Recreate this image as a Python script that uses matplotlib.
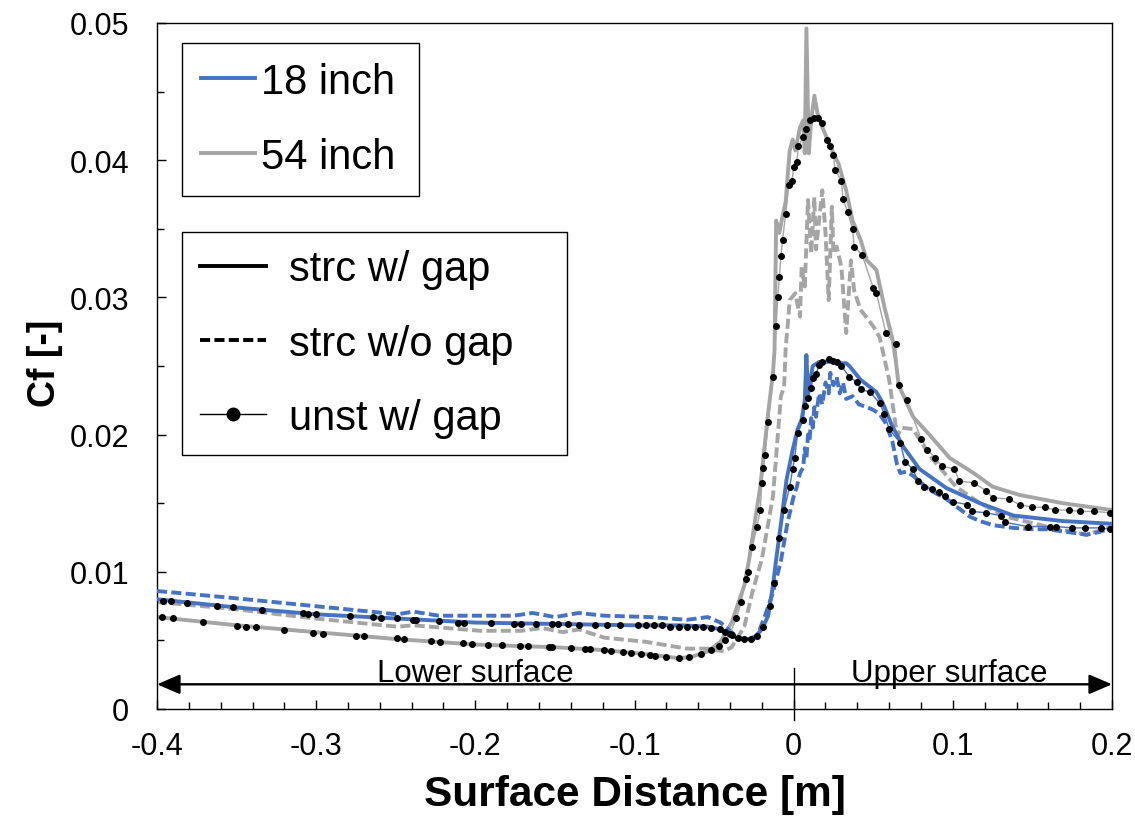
import matplotlib
matplotlib.use("Agg")
import matplotlib.pyplot as plt
from matplotlib.lines import Line2D
from matplotlib.ticker import MultipleLocator, FuncFormatter

plt.rcParams["font.family"] = ["Liberation Sans", "DejaVu Sans"]

BLUE = "#4472C4"
GRAY = "#A5A5A5"

# ---- 18 inch, structured mesh, with gap ----
x_b_gap = [-0.40, -0.35, -0.30, -0.25, -0.20, -0.15, -0.10, -0.07, -0.054, -0.046,
           -0.041, -0.036, -0.033, -0.028, -0.024, -0.020, -0.016, -0.013, -0.011,
           -0.008, -0.0045, -0.0006, 0.0025, 0.005, 0.007, 0.008, 0.009, 0.012,
           0.016, 0.020, 0.025, 0.030, 0.033, 0.035, 0.042, 0.052, 0.056, 0.062,
           0.069, 0.079, 0.096, 0.117, 0.138, 0.169, 0.200]
y_b_gap = [0.0080, 0.0074, 0.0069, 0.0066, 0.0063, 0.0062, 0.0061, 0.0061, 0.0060, 0.0058,
           0.0055, 0.0052, 0.0051, 0.0051, 0.0053, 0.0058, 0.0068, 0.0090, 0.0109,
           0.0135, 0.0167, 0.0189, 0.0204, 0.0211, 0.0225, 0.0258, 0.0230, 0.0250,
           0.0253, 0.0253, 0.0253, 0.0252, 0.0252, 0.0250, 0.0240, 0.0231, 0.0223, 0.0206,
           0.0191, 0.0175, 0.0161, 0.0150, 0.0141, 0.0137, 0.0135]

# ---- 18 inch, structured mesh, without gap ----
x_b_nogap = [-0.400, -0.353, -0.301, -0.249, -0.239, -0.223, -0.200, -0.176, -0.164, -0.150,
             -0.135, -0.119, -0.090, -0.067, -0.054, -0.046, -0.036, -0.028, -0.023, -0.018,
             -0.013, -0.008, -0.004, 0.000, 0.002, 0.004, 0.006, 0.007, 0.008, 0.009,
             0.010, 0.011, 0.012, 0.013, 0.014, 0.016, 0.018, 0.020, 0.022, 0.023,
             0.025, 0.027, 0.029, 0.031, 0.033, 0.037, 0.041, 0.046, 0.050, 0.054,
             0.058, 0.062, 0.065, 0.067, 0.071, 0.075, 0.085, 0.096, 0.104, 0.111,
             0.117, 0.125, 0.138, 0.150, 0.159, 0.172, 0.184, 0.192, 0.200]
y_b_nogap = [0.0086, 0.0081, 0.0075, 0.0069, 0.0071, 0.0068, 0.0068, 0.0068, 0.0070, 0.0067,
             0.0070, 0.0068, 0.0067, 0.0065, 0.0067, 0.0063, 0.0053, 0.0049, 0.0053, 0.0068,
             0.0085, 0.0108, 0.0135, 0.0155, 0.0162, 0.0172, 0.0176, 0.0190, 0.0182, 0.0200,
             0.0196, 0.0212, 0.0205, 0.0220, 0.0213, 0.0230, 0.0222, 0.0238, 0.0230, 0.0245,
             0.0236, 0.0242, 0.0230, 0.0238, 0.0226, 0.0228, 0.0222, 0.0220, 0.0218, 0.0215,
             0.0208, 0.0195, 0.0178, 0.0172, 0.0173, 0.0170, 0.0160, 0.0153, 0.0146, 0.0140,
             0.0137, 0.0134, 0.0132, 0.0131, 0.0131, 0.0129, 0.0127, 0.0129, 0.0132]

# ---- 18 inch, unstructured mesh, with gap ----
x_b_unst = [-0.396, -0.391, -0.381, -0.362, -0.352, -0.334, -0.308, -0.305, -0.300, -0.279,
            -0.264, -0.259, -0.249, -0.239, -0.237, -0.223, -0.211, -0.207, -0.190, -0.176,
            -0.171, -0.162, -0.152, -0.148, -0.142, -0.135, -0.125, -0.117, -0.109, -0.098,
            -0.093, -0.088, -0.083, -0.078, -0.072, -0.067, -0.062, -0.057, -0.052, -0.046,
            -0.043, -0.039, -0.035, -0.031, -0.027, -0.023, -0.019, -0.015, -0.0126, -0.009,
            -0.006, -0.0025, -0.0006, 0.0006, 0.0025, 0.006, 0.007, 0.009, 0.011, 0.012,
            0.014, 0.016, 0.018, 0.022, 0.025, 0.027, 0.030, 0.035, 0.040, 0.042,
            0.048, 0.054, 0.057, 0.060, 0.067, 0.070, 0.075, 0.078, 0.082, 0.087,
            0.091, 0.095, 0.100, 0.109, 0.112, 0.121, 0.130, 0.133, 0.147, 0.161,
            0.165, 0.175, 0.183, 0.193, 0.199]
y_b_unst = [0.0079, 0.0079, 0.0077, 0.0075, 0.0074, 0.0072, 0.0070, 0.0069, 0.0069, 0.0068,
            0.0067, 0.0066, 0.0066, 0.0065, 0.0065, 0.0064, 0.0063, 0.0063, 0.0063, 0.0062,
            0.0062, 0.0062, 0.0062, 0.0062, 0.0062, 0.0061, 0.0061, 0.0061, 0.0061, 0.0061,
            0.0061, 0.0061, 0.0061, 0.0060, 0.0060, 0.0060, 0.0060, 0.0060, 0.0059, 0.0058,
            0.0056, 0.0054, 0.0052, 0.0051, 0.0051, 0.0053, 0.0060, 0.0075, 0.0092, 0.0125,
            0.0145, 0.0162, 0.0175, 0.0183, 0.0201, 0.0211, 0.0221, 0.0227, 0.0234, 0.0241,
            0.0244, 0.0251, 0.0253, 0.0255, 0.0254, 0.0253, 0.0250, 0.0242, 0.0238, 0.0233,
            0.0231, 0.0223, 0.0215, 0.0204, 0.0194, 0.0180, 0.0175, 0.0166, 0.0162, 0.0160,
            0.0158, 0.0155, 0.0151, 0.0149, 0.0144, 0.0143, 0.0141, 0.0136, 0.0133, 0.0133,
            0.0133, 0.0132, 0.0132, 0.0132, 0.0131]

# ---- 54 inch, structured mesh, with gap ----
x_g_gap = [-0.400, -0.350, -0.300, -0.250, -0.200, -0.150, -0.120, -0.093, -0.072, -0.064,
           -0.054, -0.046, -0.039, -0.031, -0.028, -0.021, -0.016, -0.013, -0.012, -0.011,
           -0.009, -0.007, -0.005, -0.004, -0.0025, -0.0006, 0.001, 0.004, 0.006, 0.007,
           0.008, 0.0095, 0.011, 0.013, 0.015, 0.018, 0.025, 0.028, 0.033, 0.037,
           0.042, 0.046, 0.052, 0.057, 0.062, 0.064, 0.066, 0.075, 0.086, 0.098,
           0.113, 0.125, 0.142, 0.169, 0.200]
y_g_gap = [0.0067, 0.0061, 0.0056, 0.0051, 0.0047, 0.0045, 0.0043, 0.0040, 0.0037, 0.0038,
           0.0042, 0.0049, 0.0063, 0.0090, 0.0109, 0.0162, 0.0216, 0.0245, 0.0262, 0.0356,
           0.0347, 0.0359, 0.0370, 0.0385, 0.0407, 0.0415, 0.0407, 0.0424, 0.0429, 0.0405,
           0.0496, 0.0405, 0.0429, 0.0447, 0.0434, 0.0424, 0.0405, 0.0398, 0.0378, 0.0356,
           0.0342, 0.0327, 0.0320, 0.0293, 0.0270, 0.0255, 0.0236, 0.0213, 0.0199, 0.0183,
           0.0172, 0.0162, 0.0156, 0.0150, 0.0145]

# ---- 54 inch, structured mesh, without gap ----
x_g_nogap = [-0.400, -0.353, -0.301, -0.249, -0.239, -0.197, -0.171, -0.158, -0.145, -0.135,
             -0.119, -0.093, -0.067, -0.054, -0.044, -0.039, -0.031, -0.026, -0.020, -0.013,
             -0.010, -0.008, -0.006, -0.005, -0.004, -0.0025, 0.001, 0.004, 0.005, 0.007,
             0.009, 0.011, 0.013, 0.014, 0.018, 0.020, 0.022, 0.024, 0.025, 0.027,
             0.030, 0.033, 0.036, 0.038, 0.042, 0.050, 0.054, 0.060, 0.065, 0.068,
             0.075, 0.086, 0.102, 0.117, 0.134, 0.159, 0.184, 0.200]
y_g_nogap = [0.0078, 0.0073, 0.0066, 0.0060, 0.0061, 0.0057, 0.0057, 0.0059, 0.0056, 0.0058,
             0.0052, 0.0049, 0.0044, 0.0044, 0.0042, 0.0045, 0.0060, 0.0085, 0.0109, 0.0155,
             0.0199, 0.0228, 0.0235, 0.0264, 0.0276, 0.0298, 0.0303, 0.0286, 0.0322, 0.0308,
             0.0371, 0.0332, 0.0373, 0.0335, 0.0378, 0.0347, 0.0298, 0.0366, 0.0332, 0.0337,
             0.0322, 0.0274, 0.0327, 0.0305, 0.0291, 0.0279, 0.0271, 0.0240, 0.0199, 0.0205,
             0.0204, 0.0184, 0.0162, 0.0150, 0.0140, 0.0133, 0.0127, 0.0133]

# ---- 54 inch, unstructured mesh, with gap ----
x_g_unst = [-0.397, -0.390, -0.371, -0.350, -0.344, -0.338, -0.320, -0.302, -0.296, -0.275,
            -0.270, -0.249, -0.245, -0.228, -0.222, -0.208, -0.202, -0.192, -0.183, -0.172,
            -0.167, -0.154, -0.152, -0.140, -0.131, -0.128, -0.119, -0.115, -0.107, -0.102,
            -0.096, -0.090, -0.087, -0.080, -0.072, -0.066, -0.058, -0.052, -0.047, -0.043,
            -0.040, -0.036, -0.033, -0.030, -0.029, -0.026, -0.023, -0.021, -0.020, -0.019,
            -0.018, -0.016, -0.013, -0.011, -0.010, -0.009, -0.008, -0.007, -0.005, -0.003,
            -0.001, 0.000, 0.002, 0.003, 0.006, 0.008, 0.010, 0.013, 0.015, 0.018,
            0.021, 0.023, 0.025, 0.026, 0.030, 0.031, 0.034, 0.037, 0.038, 0.043,
            0.050, 0.052, 0.058, 0.064, 0.066, 0.071, 0.080, 0.084, 0.089, 0.093,
            0.101, 0.104, 0.113, 0.121, 0.125, 0.135, 0.142, 0.150, 0.158, 0.164,
            0.173, 0.180, 0.189, 0.199]
y_g_unst = [0.00667, 0.00662, 0.00635, 0.00606, 0.00600, 0.00596, 0.00574, 0.00555, 0.00550, 0.00533,
            0.00530, 0.00514, 0.00510, 0.00495, 0.00490, 0.00478, 0.00472, 0.00468, 0.00465, 0.00460,
            0.00458, 0.00453, 0.00452, 0.00444, 0.00437, 0.00436, 0.00427, 0.00424, 0.00415, 0.00410,
            0.00400, 0.00390, 0.00385, 0.00376, 0.00371, 0.00376, 0.00400, 0.00430, 0.00460, 0.00500,
            0.00550, 0.00660, 0.00780, 0.00950, 0.01000, 0.01180, 0.01330, 0.01450, 0.01650, 0.01760,
            0.01850, 0.02090, 0.02420, 0.02790, 0.03000, 0.03150, 0.03300, 0.03420, 0.03610, 0.03820,
            0.03850, 0.03950, 0.03990, 0.04100, 0.04170, 0.04230, 0.04290, 0.04310, 0.04310, 0.04270,
            0.04150, 0.04100, 0.04040, 0.03930, 0.03850, 0.03720, 0.03620, 0.03500, 0.03370, 0.03310,
            0.03070, 0.03030, 0.02740, 0.02660, 0.02360, 0.02250, 0.01970, 0.01890, 0.01830, 0.01770,
            0.01750, 0.01660, 0.01650, 0.01590, 0.01540, 0.01530, 0.01490, 0.01470, 0.01470, 0.01450,
            0.01450, 0.01440, 0.01440, 0.01430]

x_ticks = [-0.4, -0.3, -0.2, -0.1, 0.0, 0.1, 0.2]
y_ticks = [0.0, 0.01, 0.02, 0.03, 0.04, 0.05]
size_labels = ["18 inch", "54 inch"]
case_labels = ["strc w/ gap", "strc w/o gap", "unst w/ gap"]
region_labels = ["Lower surface", "Upper surface"]

FW, FH = 1135, 820
fig = plt.figure(figsize=(FW / 100, FH / 100), dpi=100)
ax = fig.add_axes([157 / FW, 1 - 710 / FH, (1112 - 157) / FW, (710 - 24) / FH])

LW = 2.8
DASH = (0, (2.6, 1.1))

# 54 inch curves
ax.plot(x_g_gap, y_g_gap, color=GRAY, lw=LW, zorder=2)
ax.plot(x_g_nogap, y_g_nogap, color=GRAY, lw=LW, ls=DASH, zorder=2)
# 18 inch curves
ax.plot(x_b_gap, y_b_gap, color=BLUE, lw=LW, zorder=3)
ax.plot(x_b_nogap, y_b_nogap, color=BLUE, lw=LW, ls=DASH, zorder=3)
# unstructured-mesh results
ax.plot(x_g_unst, y_g_unst, color=GRAY, lw=1.0, marker="o", ms=4.0,
        mfc="black", mec="black", zorder=4)
ax.plot(x_b_unst, y_b_unst, color=BLUE, lw=1.0, marker="o", ms=4.0,
        mfc="black", mec="black", zorder=4)

ax.set_xlim(-0.4, 0.2)
ax.set_ylim(0, 0.05)

ax.set_xticks(x_ticks)
ax.set_yticks(y_ticks)
ax.xaxis.set_minor_locator(MultipleLocator(0.02))
ax.yaxis.set_minor_locator(MultipleLocator(0.005))
ax.xaxis.set_major_formatter(FuncFormatter(lambda v, p: "0" if abs(v) < 1e-9 else f"{v:.1f}"))
ax.yaxis.set_major_formatter(FuncFormatter(lambda v, p: "0" if abs(v) < 1e-9 else f"{v:.2f}"))
ax.tick_params(which="both", direction="in", labelsize=22, width=1.0, color="black")
ax.tick_params(which="major", length=6.5)
ax.tick_params(which="minor", length=5)
ax.tick_params(axis="x", which="major", pad=16)
ax.tick_params(axis="y", which="major", pad=20)
for s in ax.spines.values():
    s.set_linewidth(1.0)
    s.set_color("black")

ax.set_xlabel("Surface Distance [m]", fontsize=30.5, fontweight="bold")
ax.set_ylabel("Cf [-]", fontsize=27, fontweight="bold")
ax.xaxis.set_label_coords(0.5, -0.095)
ax.yaxis.set_label_coords(-0.098, 0.505)

# surface arrow and divider at the leading edge
y_arrow = 0.0018
ax.annotate("", xy=(-0.4, y_arrow), xytext=(0.2, y_arrow),
            arrowprops=dict(arrowstyle="<|-|>,head_length=0.7,head_width=0.3",
                            mutation_scale=20, lw=1.7, color="black",
                            shrinkA=0, shrinkB=0), zorder=5)
ax.plot([0, 0], [0.0030, -0.0008], color="black", lw=1.0, clip_on=False, zorder=5)
ax.text(-0.2, 0.00205, region_labels[0], fontsize=22.5, ha="center", va="baseline")
ax.text(0.0975, 0.00205, region_labels[1], fontsize=22.5, ha="center", va="baseline")

# legends
size_handles = [Line2D([], [], color=BLUE, lw=LW), Line2D([], [], color=GRAY, lw=LW)]
leg1 = ax.legend(size_handles, size_labels, loc="upper left", mode="expand",
                 bbox_to_anchor=(182 / FW, 1 - 192 / FH, 237 / FW, 148 / FH),
                 bbox_transform=fig.transFigure,
                 fontsize=30, frameon=True, fancybox=False, framealpha=1,
                 edgecolor="black", borderpad=0.45, handlelength=1.3,
                 handletextpad=0.15, labelspacing=0.84, borderaxespad=0)
leg1.get_frame().set_linewidth(1.0)
ax.add_artist(leg1)

case_handles = [Line2D([], [], color="black", lw=LW),
                Line2D([], [], color="black", lw=LW, ls=DASH),
                Line2D([], [], color="black", lw=1.0, marker="o", ms=9)]
leg2 = ax.legend(case_handles, case_labels, loc="upper left", mode="expand",
                 bbox_to_anchor=(182 / FW, 1 - 452 / FH, 385 / FW, 219 / FH),
                 bbox_transform=fig.transFigure,
                 fontsize=30, frameon=True, fancybox=False, framealpha=1,
                 edgecolor="black", borderpad=0.42, handlelength=1.6,
                 handletextpad=0.55, labelspacing=0.82, borderaxespad=0)
leg2.get_frame().set_linewidth(1.0)

fig.savefig("out.png", dpi=100)
